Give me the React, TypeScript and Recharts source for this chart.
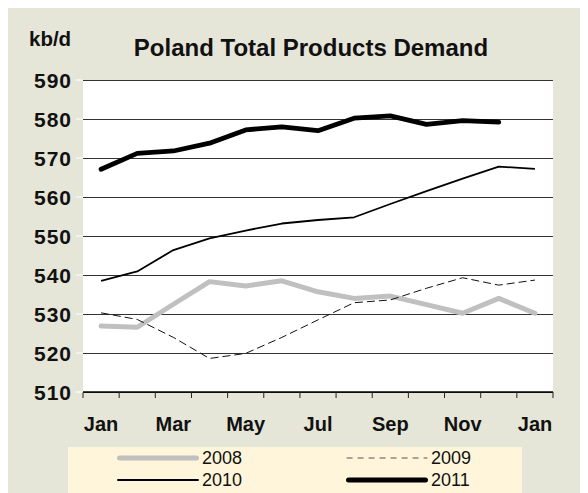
import { CartesianGrid, Line, LineChart, XAxis, YAxis } from 'recharts';

const months = ['Jan', 'Feb', 'Mar', 'Apr', 'May', 'Jun', 'Jul', 'Aug', 'Sep', 'Oct', 'Nov', 'Dec', 'Jan'];
const demand2008 = [526.9, 526.6, 532.5, 538.3, 537.2, 538.5, 535.7, 534.0, 534.6, 532.4, 530.2, 534.0, 530.2];
const demand2009 = [530.3, 528.6, 524.0, 518.6, 519.9, 524.0, 528.5, 532.9, 533.6, 536.6, 539.3, 537.4, 538.7];
const demand2010 = [538.5, 540.9, 546.4, 549.4, 551.4, 553.2, 554.1, 554.8, 558.2, 561.5, 564.7, 567.8, 567.2];
const demand2011 = [567.1, 571.2, 571.8, 573.8, 577.2, 578.0, 577.0, 580.2, 580.8, 578.6, 579.6, 579.2, null];
const yTicks = [510, 520, 530, 540, 550, 560, 570, 580, 590];
const boundaryTicks = months.map((_, i) => i).concat(months.length);

const rows = months.map((m, i) => ({
  m,
  pos: i + 0.5,
  y2008: demand2008[i],
  y2009: demand2009[i],
  y2010: demand2010[i],
  y2011: demand2011[i],
}));

const FONT = 'Arial, "Liberation Sans", sans-serif';
const BG = '#E6E6D8';

function YTick({ x, y, payload }: any) {
  return (
    <text x={x} y={y} dy={7.5} textAnchor="end" fontFamily={FONT} fontWeight="bold" fontSize={21} letterSpacing={1} fill="#111">
      {payload.value}
    </text>
  );
}

function XTick({ x, y, payload, index }: any) {
  if (index % 2 !== 0) return null;
  return (
    <text x={x} y={y} dy={33} textAnchor="middle" fontFamily={FONT} fontWeight="bold" fontSize={20} fill="#111">
      {payload.value}
    </text>
  );
}

function NoLabel() {
  return null;
}

function LegendItem({ label, left, top, stroke, width, dash }: any) {
  return (
    <div style={{ position: 'absolute', left, top, display: 'flex', alignItems: 'center' }}>
      <svg width={84} height={10} style={{ display: 'block' }}>
        <line x1={width / 2 + 1} y1={5} x2={83 - width / 2} y2={5} stroke={stroke} strokeWidth={width}
          strokeLinecap={dash ? 'butt' : 'round'} strokeDasharray={dash} />
      </svg>
      <span style={{ fontSize: 18, lineHeight: '20px', marginLeft: 2 }}>{label}</span>
    </div>
  );
}

export default function App() {
  return (
    <div style={{ position: 'relative', width: 580, height: 485, background: BG, fontFamily: FONT, color: '#111' }}>
      <div style={{ position: 'absolute', left: 21, top: 21, fontSize: 20.5, fontWeight: 'bold', lineHeight: '19px' }}>
        kb/d
      </div>
      <div style={{ position: 'absolute', left: 0, width: 606, top: 29, textAlign: 'center', fontSize: 24, fontWeight: 'bold', lineHeight: '22px' }}>
        Poland Total Products Demand
      </div>
      <div style={{ position: 'absolute', left: 0, top: 0 }}>
        <LineChart width={580} height={485} data={rows} margin={{ top: 72, right: 35, bottom: 61, left: 0 }}>
          <CartesianGrid horizontal vertical={false} stroke="#333" strokeWidth={1} fill="#fff" fillOpacity={1} shapeRendering="crispEdges" />
          <XAxis dataKey="pos" type="number" domain={[0, months.length]} ticks={boundaryTicks} height={6}
            tick={<NoLabel />} tickSize={6} tickLine={{ stroke: '#222' }} axisLine={{ stroke: '#000', strokeWidth: 1.3 }} />
          <XAxis xAxisId="c" dataKey="m" height={34} interval={0} tickLine={false}
            axisLine={false} tickSize={0} tickMargin={0} tick={<XTick />} padding={{ left: 18, right: 18 }} />
          <YAxis domain={[510, 590]} ticks={yTicks} width={75} axisLine={false} tickSize={7} tickMargin={4}
            tickLine={{ stroke: '#fff' }} tick={<YTick />} />
          <Line dataKey="y2008" stroke="#C0C0C0" strokeWidth={5} dot={false} isAnimationActive={false} strokeLinecap="round" strokeLinejoin="round" />
          <Line dataKey="y2009" stroke="#111" strokeWidth={1} strokeDasharray="8 4" dot={false} isAnimationActive={false} />
          <Line dataKey="y2010" stroke="#000" strokeWidth={1.8} dot={false} isAnimationActive={false} strokeLinejoin="round" />
          <Line dataKey="y2011" stroke="#000" strokeWidth={4.8} dot={false} isAnimationActive={false} strokeLinecap="round" strokeLinejoin="round" />
        </LineChart>
      </div>
      <div style={{ position: 'absolute', left: 60, top: 439, width: 454, height: 46, background: '#FFF5DA' }}>
        <LegendItem label="2008" left={48} top={1} stroke="#C0C0C0" width={5} />
        <LegendItem label="2009" left={277} top={1} stroke="#555" width={1.2} dash="6 5" />
        <LegendItem label="2010" left={48} top={23} stroke="#000" width={2} />
        <LegendItem label="2011" left={277} top={23} stroke="#000" width={5} />
      </div>
    </div>
  );
}
